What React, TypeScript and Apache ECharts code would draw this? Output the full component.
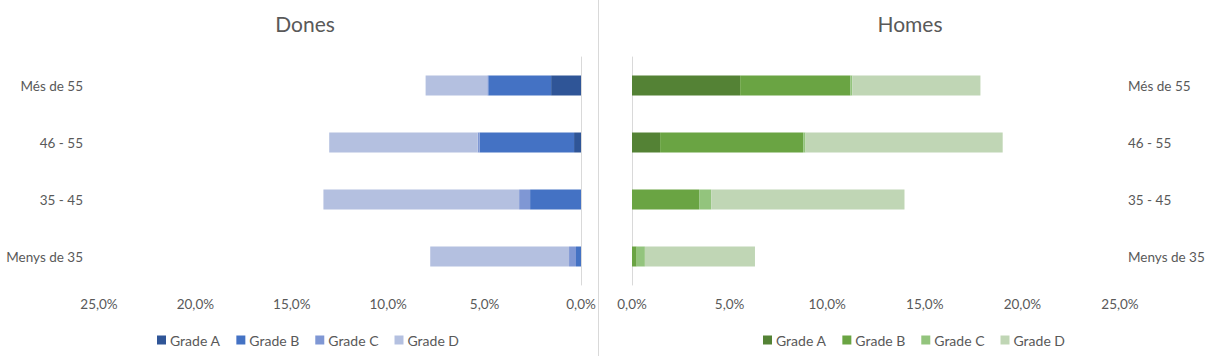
import React, { useEffect, useRef } from "react";
import * as echarts from "echarts";

const categories = ["Més de 55", "46 - 55", "35 - 45", "Menys de 35"];
const grades = ["Grade A", "Grade B", "Grade C", "Grade D"];

// Dones (%), order matches categories
const donesA = [1.55, 0.36, 0, 0];
const donesB = [3.26, 4.9, 2.64, 0.26];
const donesC = [0.05, 0.1, 0.57, 0.36];
const donesD = [3.2, 7.7, 10.15, 7.2];

// Homes (%)
const homesA = [5.54, 1.44, 0, 0];
const homesB = [5.65, 7.33, 3.44, 0.24];
const homesC = [0.1, 0.12, 0.62, 0.42];
const homesD = [6.56, 10.1, 9.9, 5.64];

const blueColors = ["#2F5597", "#4472C4", "#7F97D4", "#B4C0E0"];
const greenColors = ["#548235", "#6AA443", "#93C47D", "#C0D6B5"];

const FONT = "Lato, 'Open Sans', sans-serif";
const TXT = "#595959";

export default function App() {
  const ref = useRef<HTMLDivElement>(null);
  useEffect(() => {
    document.body.style.margin = "0";
    if (!ref.current) return;
    const chart = echarts.init(ref.current, null, { renderer: "svg" });
    const fmt = (v: number) => v.toFixed(1).replace(".", ",") + "%";
    const donesData = [donesA, donesB, donesC, donesD];
    const homesData = [homesA, homesB, homesC, homesD];
    const series: any[] = [];
    grades.forEach((g, i) => {
      series.push({
        name: "D|" + g,
        type: "bar",
        stack: "d",
        xAxisIndex: 0,
        yAxisIndex: 0,
        barWidth: 20,
        itemStyle: { color: blueColors[i] },
        data: donesData[i],
      });
    });
    grades.forEach((g, i) => {
      series.push({
        name: "H|" + g,
        type: "bar",
        stack: "h",
        xAxisIndex: 1,
        yAxisIndex: 1,
        barWidth: 20,
        itemStyle: { color: greenColors[i] },
        data: homesData[i],
      });
    });
    const xCommon = {
      type: "value",
      min: 0,
      max: 25,
      interval: 5,
      axisLine: { show: false },
      axisTick: { show: false },
      splitLine: { show: false },
      axisLabel: { formatter: fmt, color: TXT, fontSize: 13.5, fontFamily: FONT, margin: 12 },
    };
    const yCommon = {
      type: "category",
      data: categories,
      inverse: true,
      axisTick: { show: false },
      splitLine: { show: false },
    };
    const legendCommon = {
      top: 333,
      padding: 0,
      itemWidth: 9,
      itemHeight: 9,
      itemGap: 16,
      icon: "rect",
      formatter: (n: string) => n.split("|")[1],
      textStyle: { color: TXT, fontSize: 14, fontFamily: FONT, padding: [0, 0, 0, -1] },
      selectedMode: false,
    };
    chart.setOption({
      animation: false,
      textStyle: { fontFamily: FONT },
      title: [
        { text: "Dones", left: 300, top: 8, textAlign: "center", textStyle: { color: TXT, fontSize: 21, fontWeight: "normal", fontFamily: FONT } },
        { text: "Homes", left: 905, top: 8, textAlign: "center", textStyle: { color: TXT, fontSize: 21, fontWeight: "normal", fontFamily: FONT } },
      ],
      legend: [
        { ...legendCommon, data: grades.map((g) => "D|" + g), left: 157 },
        { ...legendCommon, data: grades.map((g) => "H|" + g), left: 763 },
      ],
      grid: [
        { left: 99, right: 1216 - 581, top: 57, height: 228 },
        { left: 632, right: 1216 - 1120, top: 57, height: 228 },
      ],
      xAxis: [
        { ...xCommon, gridIndex: 0, inverse: true },
        { ...xCommon, gridIndex: 1 },
      ],
      yAxis: [
        {
          ...yCommon,
          gridIndex: 0,
          position: "left",
          axisLine: { show: true, lineStyle: { color: "#D9D9D9" } },
          axisLabel: { color: TXT, fontSize: 13.5, fontFamily: FONT, margin: 16 },
        },
        {
          ...yCommon,
          gridIndex: 1,
          position: "right",
          axisLine: { show: false },
          axisLabel: { color: TXT, fontSize: 13.5, fontFamily: FONT, margin: 8 },
        },
        {
          ...yCommon,
          gridIndex: 1,
          position: "left",
          axisLine: { show: true, lineStyle: { color: "#D9D9D9" } },
          axisLabel: { show: false },
        },
      ],
      graphic: [
        {
          type: "line",
          shape: { x1: 598.5, y1: 0, x2: 598.5, y2: 356 },
          style: { stroke: "#D9D9D9", lineWidth: 1 },
        },
      ],
      series,
    });
    return () => chart.dispose();
  }, []);
  return <div ref={ref} style={{ width: 1216, height: 356 }} />;
}
